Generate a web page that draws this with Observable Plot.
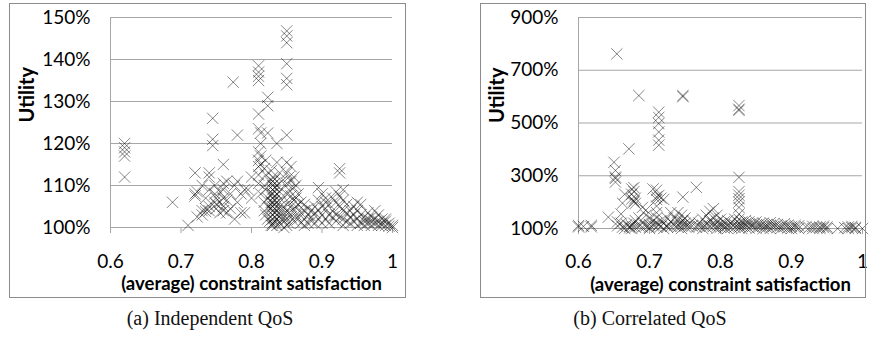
<!DOCTYPE html>
<html>
<head>
<meta charset="utf-8">
<script src="https://cdn.jsdelivr.net/npm/d3@7"></script>
<script src="https://cdn.jsdelivr.net/npm/@observablehq/plot@0.6"></script>
<style>
  html, body { margin: 0; padding: 0; background: #fff; }
  #root { position: relative; width: 870px; height: 341px; overflow: hidden; background: #fff; }
  .panel { position: absolute; }
  .panel svg { position: absolute; left: 0; top: 0; }
  .border { position: absolute; left: 0; top: 0; right: 0; bottom: 0; border: 1px solid #8c8c8c; box-sizing: border-box; pointer-events: none; }
  .caption { position: absolute; font-family: "Liberation Serif", "DejaVu Serif", serif; font-size: 20px; color: #111; white-space: nowrap; transform: translateX(-50%); }
</style>
</head>
<body>
<div id="root"></div>
<script>
// ---------- data ----------
const xTicks = [0.6, 0.7, 0.8, 0.9, 1];
const yTicksA = [100, 110, 120, 130, 140, 150];
const yTicksB = [100, 300, 500, 700, 900];
const xLabel = "(average) constraint satisfaction";
const yLabel = "Utility";
const captionA = "(a) Independent QoS";
const captionB = "(b) Correlated QoS";

// (a) Independent QoS: [constraint satisfaction, utility %]
const independentPts = [
  [0.62,120],[0.62,119],[0.62,118],[0.62,117],[0.62,112],
  [0.688,106],[0.71,100.5],
  [0.72,108],[0.72,107.5],[0.72,113],[0.723,108.5],[0.723,102.5],
  [0.73,103],[0.73,104],[0.73,110],[0.735,104.5],[0.735,103.8],[0.735,107],
  [0.74,113],[0.74,112],[0.74,104],[0.74,109],[0.74,105],
  [0.745,126],[0.745,121],[0.745,119.5],
  [0.748,108],[0.748,106],[0.748,110],[0.75,104.5],[0.75,107],[0.75,105.5],
  [0.755,103.5],[0.755,108.5],[0.755,106],
  [0.76,115],[0.76,107],[0.76,105],[0.76,104],[0.76,109],[0.76,110.5],
  [0.765,106.5],[0.765,103.5],[0.765,111],[0.77,108],[0.77,104.5],
  [0.774,134.6],[0.776,102],[0.776,110],
  [0.78,122],[0.78,111],[0.78,106],[0.785,108],[0.785,103.5],
  [0.79,103.5],[0.79,109],[0.795,109],[0.8,112],[0.8,107],
  [0.81,138.5],[0.81,137],[0.81,136],[0.81,135],[0.81,127],[0.81,123.5],[0.81,118],[0.81,116],[0.81,114.5],[0.81,112.5],[0.81,110.5],
  [0.813,122.5],[0.813,120],[0.813,117],[0.813,115],[0.813,108],
  [0.818,114],[0.818,110],[0.818,106],[0.818,104],
  [0.82,116],[0.82,112.5],[0.82,109],[0.82,103],
  [0.823,131],[0.823,129],[0.823,122.5],[0.823,107],[0.823,102],
  [0.826,111],[0.826,105],[0.826,101.5],[0.826,104.5],
  [0.828,113.5],[0.828,108],[0.828,106],[0.828,100.5],
  [0.83,112],[0.83,111],[0.83,110],[0.83,109],[0.83,108],[0.83,107],[0.83,106],[0.83,105],[0.83,104],[0.83,103],[0.83,102],[0.83,101],[0.83,100.5],
  [0.833,111.5],[0.833,110.5],[0.833,109.5],[0.833,108.5],[0.833,107.5],[0.833,106.5],[0.833,105.5],[0.833,104.5],[0.833,103.5],[0.833,102.5],[0.833,101.5],
  [0.836,120],[0.836,115.5],[0.836,110],[0.836,108],[0.836,106],[0.836,104],[0.836,102],[0.836,100.5],
  [0.84,113],[0.84,108.5],[0.84,105],[0.84,103],[0.84,101],
  [0.843,111],[0.843,106.5],[0.843,104],[0.843,102],
  [0.846,105],[0.846,103],[0.846,101.5],[0.846,100],
  [0.85,146.8],[0.85,145.6],[0.85,144],[0.85,139],[0.85,135.5],[0.85,134],[0.85,122],[0.85,115.5],[0.85,113],[0.85,110.5],[0.85,108],[0.85,104],[0.85,102],[0.85,100.5],
  [0.853,112],[0.853,109],[0.853,106],[0.853,103.5],[0.853,101],
  [0.856,114.5],[0.856,111],[0.856,107.5],[0.856,105],[0.856,102.5],
  [0.86,112],[0.86,109.5],[0.86,106.5],[0.86,104],[0.86,101.5],
  [0.863,110],[0.863,107],[0.863,105],[0.863,103],
  [0.866,108],[0.866,105.5],[0.866,102],
  [0.87,106],[0.87,103.5],[0.87,101],
  [0.875,104],[0.875,102],[0.875,100.5],[0.875,105.5],
  [0.88,103],[0.88,101],[0.88,104.5],[0.885,102.5],[0.885,104],[0.885,101.5],
  [0.89,103.5],[0.89,101],[0.89,105],
  [0.895,109.5],[0.895,106.5],[0.895,104],[0.895,102],
  [0.9,108],[0.9,105],[0.9,103],[0.9,101],
  [0.905,107],[0.905,104.5],[0.905,102],[0.905,106],
  [0.91,103],[0.91,105.5],[0.91,101],[0.915,104],[0.915,102.5],[0.915,107],
  [0.92,108.5],[0.92,106],[0.92,103],[0.92,101.5],
  [0.925,114],[0.925,113],[0.925,107.5],[0.925,105],[0.925,102.5],
  [0.93,109],[0.93,106.5],[0.93,104],[0.93,102],[0.93,100.5],
  [0.935,103.5],[0.935,105.5],[0.935,101.5],
  [0.94,104],[0.94,102.5],[0.94,101],[0.945,103],[0.945,101.5],[0.945,105],
  [0.95,102],[0.95,104],[0.95,100.5],[0.95,106],
  [0.955,103],[0.955,101],[0.955,105.5],
  [0.96,102.5],[0.96,101.5],[0.96,100.5],[0.965,101],[0.965,102],[0.965,103.5],
  [0.97,101.5],[0.97,100.5],[0.97,102.5],[0.975,104],[0.975,101],[0.975,102],
  [0.98,100.5],[0.98,101.5],[0.98,103],[0.985,101],[0.985,102],[0.985,100.5],
  [0.99,100.5],[0.99,101.5],[0.99,102],[0.995,101],[0.995,100.3],[1.0,100],[1.0,100.5]
];

// (b) Correlated QoS: [constraint satisfaction, utility %]
const correlatedPts = [
  [0.6,111],[0.6,106],[0.607,108],[0.618,106],[0.618,112],
  [0.642,143],[0.65,351],[0.652,320],[0.652,295],[0.652,276],[0.652,290],
  [0.654,762],[0.655,110],[0.655,125],[0.66,155],[0.66,120],[0.662,196],[0.662,105],
  [0.665,230],[0.665,100],[0.668,115],[0.671,402],[0.672,108],[0.672,102],
  [0.675,250],[0.675,230],[0.675,212],[0.675,100],[0.675,110],
  [0.678,255],[0.678,240],[0.678,205],[0.678,200],[0.678,120],
  [0.68,215],[0.68,195],[0.68,130],[0.68,105],
  [0.685,604],[0.685,110],[0.685,140],[0.69,180],[0.69,120],[0.69,105],
  [0.695,170],[0.695,150],[0.695,110],[0.7,140],[0.7,115],[0.7,105],[0.7,100],
  [0.705,130],[0.705,112],[0.705,250],
  [0.71,245],[0.71,220],[0.71,210],[0.71,185],[0.71,160],[0.71,140],[0.71,120],[0.71,105],
  [0.713,541],[0.713,521],[0.713,498],[0.713,466],[0.713,435],[0.713,416],[0.713,225],[0.713,115],
  [0.716,215],[0.716,130],[0.716,108],[0.72,210],[0.72,120],[0.72,100],
  [0.725,140],[0.725,110],[0.725,105],[0.73,125],[0.73,108],[0.73,160],
  [0.735,112],[0.735,140],[0.74,130],[0.74,115],[0.74,105],[0.74,160],
  [0.745,150],[0.745,125],[0.745,110],[0.745,100],
  [0.747,604],[0.747,600],[0.747,219],[0.747,130],
  [0.75,140],[0.75,120],[0.75,108],[0.755,115],[0.755,105],[0.76,130],[0.76,110],
  [0.766,256],[0.766,105],[0.77,120],[0.77,108],[0.775,135],[0.775,112],[0.775,100],
  [0.78,150],[0.78,118],[0.78,105],[0.785,165],[0.785,130],[0.785,110],
  [0.79,175],[0.79,140],[0.79,120],[0.79,108],[0.795,150],[0.795,125],[0.795,110],[0.795,100],
  [0.8,135],[0.8,118],[0.8,105],[0.805,125],[0.805,110],[0.805,102],
  [0.81,130],[0.81,112],[0.81,100],[0.815,120],[0.815,105],[0.82,135],[0.82,115],[0.82,105],
  [0.826,566],[0.826,552],[0.826,548],[0.826,294],[0.826,240],[0.826,226],[0.826,213],[0.826,200],[0.826,180],[0.826,155],[0.826,135],[0.826,120],[0.826,110],[0.826,102],
  [0.83,125],[0.83,110],[0.83,100],[0.835,118],[0.835,105],[0.835,130],
  [0.84,115],[0.84,102],[0.84,125],[0.845,120],[0.845,108],
  [0.85,112],[0.85,100],[0.85,125],[0.855,118],[0.855,106],
  [0.86,110],[0.86,120],[0.86,100],[0.865,115],[0.865,104],
  [0.87,112],[0.87,100],[0.87,122],[0.875,108],[0.875,118],
  [0.88,115],[0.88,104],[0.885,110],[0.885,100],[0.89,118],[0.89,106],
  [0.895,112],[0.895,102],[0.9,108],[0.9,100],[0.905,105],[0.905,112],
  [0.91,110],[0.91,100],[0.92,106],[0.925,103],[0.93,108],[0.93,100],
  [0.935,104],[0.94,106],[0.94,100],[0.945,103],[0.945,109],[0.95,100],[0.95,106],
  [0.965,100],[0.975,103],[0.98,106],[0.98,100],[0.985,103],[0.985,108],
  [0.99,100],[0.99,104],[1.0,100]
];

// ---------- drawing ----------
const gridColor = "#a6a6a6";
const fmtX = d => (d === 1 ? "1" : d.toFixed(1));

function panel({pts, yDomain, yTicks, width, height, mL, mR, mT, mB, yLabelDx, xLabelDy, xTickPad}) {
  return Plot.plot({
    width, height,
    marginLeft: mL, marginRight: mR, marginTop: mT, marginBottom: mB,
    style: {fontFamily: "Lato, 'Open Sans', sans-serif", fontSize: "19px", color: "#000", background: "transparent", overflow: "visible"},
    x: {domain: [0.6, 1]},
    y: {domain: yDomain},
    marks: [
      Plot.ruleY(yTicks, {stroke: gridColor, strokeWidth: 1}),
      Plot.ruleX([0.6], {stroke: gridColor, strokeWidth: 1}),
      Plot.axisY({ticks: yTicks, tickSize: 0, tickPadding: 20, tickFormat: d => d + "%", label: null, fontSize: 19}),
      Plot.axisX({ticks: xTicks, tickSize: 6, tickPadding: xTickPad, tickFormat: fmtX, stroke: gridColor, label: null, fontSize: 19}),
      Plot.dot(pts, {x: d => d[0], y: d => d[1], symbol: "times", r: 5.2, stroke: "#000", strokeOpacity: 0.48, strokeWidth: 1}),
      Plot.text([xLabel], {text: d => d, frameAnchor: "bottom", dy: xLabelDy, fontWeight: "bold", fontSize: 18.5, fill: "#000"}),
      Plot.text([yLabel], {text: d => d, frameAnchor: "left", dx: yLabelDx, rotate: -90, fontWeight: "bold", fontSize: 20, fill: "#000"})
    ]
  });
}

const root = document.getElementById("root");

function addPanel(left, top, w, h, svg) {
  const div = document.createElement("div");
  div.className = "panel";
  div.style.left = left + "px";
  div.style.top = top + "px";
  div.style.width = w + "px";
  div.style.height = h + "px";
  div.appendChild(svg);
  const b = document.createElement("div");
  b.className = "border";
  div.appendChild(b);
  root.appendChild(div);
}

addPanel(9, 3, 397, 295, panel({
  pts: independentPts, yDomain: [100, 150], yTicks: yTicksA,
  width: 397, height: 295, mL: 101, mR: 14, mT: 14, mB: 71, yLabelDx: -83, xLabelDy: 62, xTickPad: 21
}));
addPanel(480, 3, 386, 295, panel({
  pts: correlatedPts, yDomain: [100, 900], yTicks: yTicksB,
  width: 386, height: 295, mL: 98, mR: 4, mT: 14, mB: 70, yLabelDx: -81, xLabelDy: 62, xTickPad: 20
}));

function addCaption(text, cx, top) {
  const c = document.createElement("div");
  c.className = "caption";
  c.textContent = text;
  c.style.left = cx + "px";
  c.style.top = top + "px";
  root.appendChild(c);
}
addCaption(captionA, 210, 307);
addCaption(captionB, 650, 307);
</script>
</body>
</html>
